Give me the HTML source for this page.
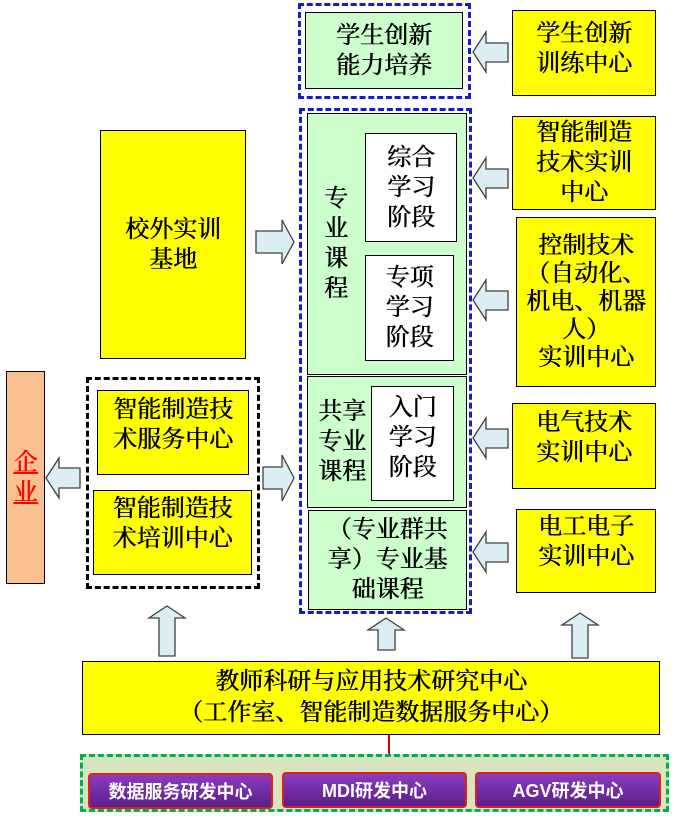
<!DOCTYPE html>
<html><head><meta charset="utf-8"><style>
body{margin:0;width:675px;height:823px;background:#fff;position:relative;overflow:hidden;font-family:"Liberation Serif","Noto Serif CJK SC","Noto Sans CJK SC",serif;}
.b{position:absolute;box-sizing:border-box;border:1.5px solid #000;display:flex;align-items:center;justify-content:center;text-align:center;font-size:24px;line-height:30px;color:#000;text-shadow:0.6px 0 0 currentColor;}
.y{background:#ffff00}.g{background:#ccffcc}.w{background:#fff}
.d{position:absolute;box-sizing:border-box;border:3px dashed #1a1acc;}
.p{position:absolute;box-sizing:border-box;background:linear-gradient(#8a3cc0,#5a1f8a);border:2px solid #e02020;border-radius:4px;color:#fff;font-family:"Liberation Sans","Noto Sans CJK SC",sans-serif;font-weight:bold;font-size:18px;display:flex;align-items:center;justify-content:center;}
svg{position:absolute;left:0;top:0}
</style></head><body>
<div class="d" style="left:298px;top:3px;width:173px;height:96px"></div>
<div class="b g" style="left:305px;top:12px;width:158px;height:77px">学生创新<br>能力培养</div>
<div class="d" style="left:299px;top:108px;width:173px;height:506px"></div>
<div class="b g" style="left:307px;top:113px;width:160px;height:262px;justify-content:flex-start;padding-left:16px">专<br>业<br>课<br>程</div>
<div class="b w" style="left:365px;top:133px;width:92px;height:109px">综合<br>学习<br>阶段</div>
<div class="b w" style="left:365px;top:255px;width:89px;height:106px">专项<br>学习<br>阶段</div>
<div class="b g" style="left:307px;top:376px;width:160px;height:132px;justify-content:flex-start;padding-left:10px">共享<br>专业<br>课程</div>
<div class="b w" style="left:371px;top:386px;width:83px;height:115px;align-items:flex-start;padding-top:6px">入门<br>学习<br>阶段</div>
<div class="b g" style="left:308px;top:510px;width:159px;height:100px">（专业群共<br>享）专业基<br>础课程</div>

<div class="b y" style="left:512px;top:10px;width:144px;height:86px;align-items:flex-start;padding-top:8px">学生创新<br>训练中心</div>
<div class="b y" style="left:512px;top:116px;width:144px;height:94px">智能制造<br>技术实训<br>中心</div>
<div class="b y" style="left:516px;top:217px;width:140px;height:170px;line-height:28px">控制技术<br>（自动化、<br>机电、机器<br>人）<br>实训中心</div>
<div class="b y" style="left:512px;top:403px;width:144px;height:86px;align-items:flex-start;padding-top:4px">电气技术<br>实训中心</div>
<div class="b y" style="left:516px;top:509px;width:140px;height:84px;align-items:flex-start;padding-top:2px">电工电子<br>实训中心</div>

<div class="b y" style="left:100px;top:130px;width:146px;height:229px">校外实训<br>基地</div>
<div class="b" style="left:6px;top:371px;width:39px;height:213px;background:#fac090;color:#ff0000;text-decoration:underline;">企<br>业</div>
<div style="position:absolute;left:86px;top:377px;width:174px;height:212px;box-sizing:border-box;border:3px dashed #000"></div>
<div class="b y" style="left:97px;top:390px;width:152px;height:85px;align-items:flex-start;padding-top:4px">智能制造技<br>术服务中心</div>
<div class="b y" style="left:93px;top:490px;width:159px;height:85px;align-items:flex-start;padding-top:3px">智能制造技<br>术培训中心</div>

<div class="b y" style="left:82px;top:661px;width:578px;height:74px;font-size:24px;line-height:31px">教师科研与应用技术研究中心<br>（工作室、智能制造数据服务中心）</div>
<div style="position:absolute;left:388px;top:735px;width:2px;height:20px;background:#e00000"></div>
<div style="position:absolute;left:80px;top:754px;width:589px;height:58px;box-sizing:border-box;background:#d8e4bc;border:3px dashed #00b050"></div>
<div class="p" style="left:88px;top:773px;width:185px;height:36px">数据服务研发中心</div>
<div class="p" style="left:282px;top:772px;width:185px;height:36px">MDI研发中心</div>
<div class="p" style="left:475px;top:772px;width:186px;height:36px">AGV研发中心</div>

<svg width="675" height="823" viewBox="0 0 675 823">
<g fill="#dbeef4" stroke="#404040" stroke-width="1.3">
<path d="M473,52 L486,32 L486,43 L508,43 L508,62 L486,62 L486,72 Z"/>
<path d="M473,178 L486,158 L486,169 L508,169 L508,188 L486,188 L486,198 Z"/>
<path d="M473,300 L486,280 L486,291 L508,291 L508,310 L486,310 L486,320 Z"/>
<path d="M473,438 L486,418 L486,429 L508,429 L508,448 L486,448 L486,458 Z"/>
<path d="M473,552 L486,532 L486,543 L508,543 L508,562 L486,562 L486,572 Z"/>
<path d="M46,478 L59,458 L59,468 L80,468 L80,488 L59,488 L59,498 Z"/>
<path d="M294,242 L282,220 L282,231 L256,231 L256,253 L282,253 L282,264 Z"/>
<path d="M294,478 L282,455 L282,467 L263,467 L263,489 L282,489 L282,501 Z"/>
<path d="M167,606 L185,618 L175,618 L175,656 L159,656 L159,618 L149,618 Z"/>
<path d="M386,618 L404,630 L395,630 L395,650 L378,650 L378,630 L368,630 Z"/>
<path d="M580,613 L598,625 L588,625 L588,658 L572,658 L572,625 L562,625 Z"/>
</g>
</svg>
</body></html>
